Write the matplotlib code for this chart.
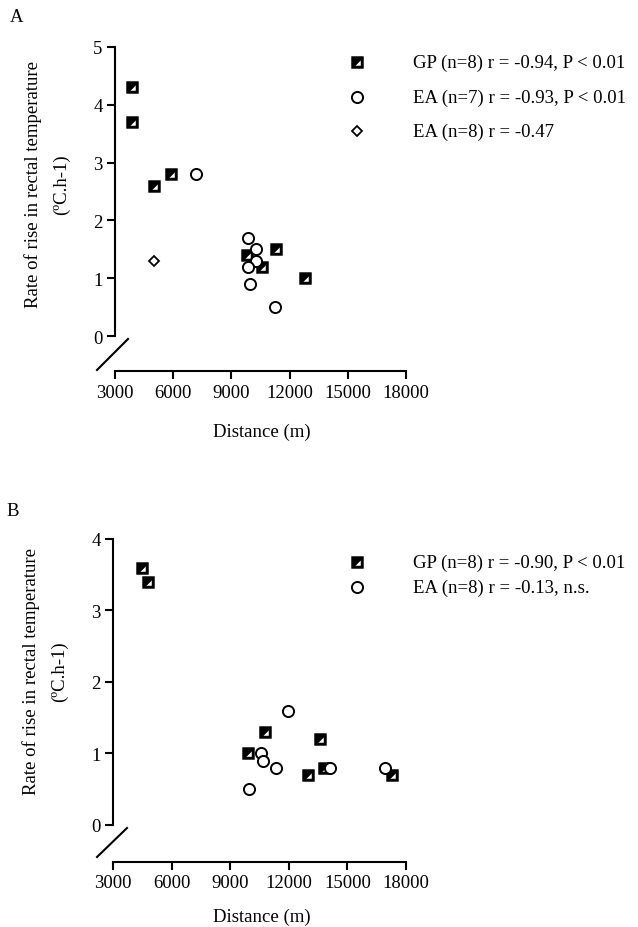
import numpy as np
import matplotlib
matplotlib.use("Agg")
import matplotlib.pyplot as plt
from matplotlib.path import Path
from matplotlib.lines import Line2D

plt.rcParams['font.family'] = ['Liberation Serif', 'DejaVu Serif']

# Panel A data
a_gp_x = [3900, 3900, 5000, 5900, 9800, 10600, 11300, 12800]
a_gp_y = [4.3, 3.7, 2.6, 2.8, 1.4, 1.2, 1.5, 1.0]
a_ea7_x = [7200, 9850, 10250, 10250, 9850, 9980, 11270]
a_ea7_y = [2.8, 1.7, 1.5, 1.3, 1.2, 0.9, 0.5]
a_ea8_x = [5000]
a_ea8_y = [1.3]
a_labels = ["GP (n=8) r = -0.94, P < 0.01",
            "EA (n=7) r = -0.93, P < 0.01",
            "EA (n=8) r = -0.47"]

# Panel B data
b_gp_x = [4500, 4800, 9900, 10800, 13600, 13000, 13800, 17300]
b_gp_y = [3.6, 3.4, 1.0, 1.3, 1.2, 0.7, 0.8, 0.7]
b_ea_x = [9970, 10600, 10700, 11370, 11950, 14100, 16900]
b_ea_y = [0.5, 1.0, 0.9, 0.8, 1.6, 0.8, 0.8]
b_labels = ["GP (n=8) r = -0.90, P < 0.01",
            "EA (n=8) r = -0.13, n.s."]

xticks = [3000, 6000, 9000, 12000, 15000, 18000]
ylabel1 = "Rate of rise in rectal temperature"
ylabel2 = "(\u00baC.h-1)"

# black square with a white triangle cut out
sq = [(-1, -1), (1, -1), (1, 1), (-1, 1), (-1, -1)]
tri = [(-0.45, -0.6), (0.6, 0.45), (0.6, -0.6), (-0.45, -0.6)]
verts = sq + tri
codes = ([Path.MOVETO] + [Path.LINETO] * 3 + [Path.CLOSEPOLY]
         + [Path.MOVETO] + [Path.LINETO] * 2 + [Path.CLOSEPOLY])
gp_marker = Path(verts, codes)

W, H = 638, 928
fig = plt.figure(figsize=(W / 100, H / 100), dpi=100)

gp_style = dict(marker=gp_marker, ms=8.5, mfc='black', mec='black', mew=0.4, ls='none')
ea_style = dict(marker='o', ms=8, mfc='white', mec='black', mew=1.4, ls='none')
dia_style = dict(marker='D', ms=5.5, mfc='white', mec='black', mew=1.3, ls='none')

FS = 13.5


def px(x, y):
    return x / W, 1 - y / H


def setup(ax, ymax, ybot):
    ax.set_xlim(3000, 18000)
    ax.set_ylim(ybot, ymax)
    for s in ['top', 'right']:
        ax.spines[s].set_visible(False)
    ax.spines['left'].set_bounds(0, ymax)
    ax.spines['left'].set_linewidth(1.5)
    ax.spines['bottom'].set_linewidth(1.5)
    ax.set_xticks(xticks)
    ax.set_yticks(range(0, ymax + 1))
    ax.tick_params(direction='out', length=6, width=1.5, labelsize=FS, pad=3)
    ax.patch.set_visible(False)


def slash(x0, y0, x1, y1):
    a, b = px(x0, y0)
    c, d = px(x1, y1)
    fig.add_artist(Line2D([a, c], [b, d], color='black', lw=1.5, transform=fig.transFigure))


def legend_row(y, style, text):
    mx, my = px(357, y)
    fig.add_artist(Line2D([mx], [my], transform=fig.transFigure, **style))
    tx, ty = px(413, y)
    fig.text(tx, ty, text, fontsize=FS, va='center', ha='left')


# Panel A
axA = fig.add_axes([115 / W, 1 - 372 / H, 291 / W, 324 / H])
setup(axA, 5, -0.605)
axA.plot(a_gp_x, a_gp_y, **gp_style)
axA.plot(a_ea7_x, a_ea7_y, **ea_style)
axA.plot(a_ea8_x, a_ea8_y, **dia_style)
slash(97, 371, 128, 340)
fig.text(*px(17, 17), "A", fontsize=FS, ha='center', va='center')
fig.text(*px(33, 185), ylabel1, fontsize=FS, rotation=90, ha='center', va='center')
fig.text(*px(61, 185), ylabel2, fontsize=FS, rotation=90, ha='center', va='center')
fig.text(*px(262, 432), "Distance (m)", fontsize=FS, ha='center', va='center')
for y, st, t in zip([63, 98, 132], [gp_style, ea_style, dia_style], a_labels):
    legend_row(y, st, t)

# Panel B
axB = fig.add_axes([113 / W, 1 - 863 / H, 293 / W, 323 / H])
setup(axB, 4, -0.52)
axB.plot(b_gp_x, b_gp_y, **gp_style)
axB.plot(b_ea_x, b_ea_y, **ea_style)
slash(97, 858, 127, 829)
fig.text(*px(13, 512), "B", fontsize=FS, ha='center', va='center')
fig.text(*px(31, 672), ylabel1, fontsize=FS, rotation=90, ha='center', va='center')
fig.text(*px(59, 672), ylabel2, fontsize=FS, rotation=90, ha='center', va='center')
fig.text(*px(262, 917), "Distance (m)", fontsize=FS, ha='center', va='center')
for y, st, t in zip([563, 588], [gp_style, ea_style], b_labels):
    legend_row(y, st, t)

fig.savefig("out.png", dpi=100)
